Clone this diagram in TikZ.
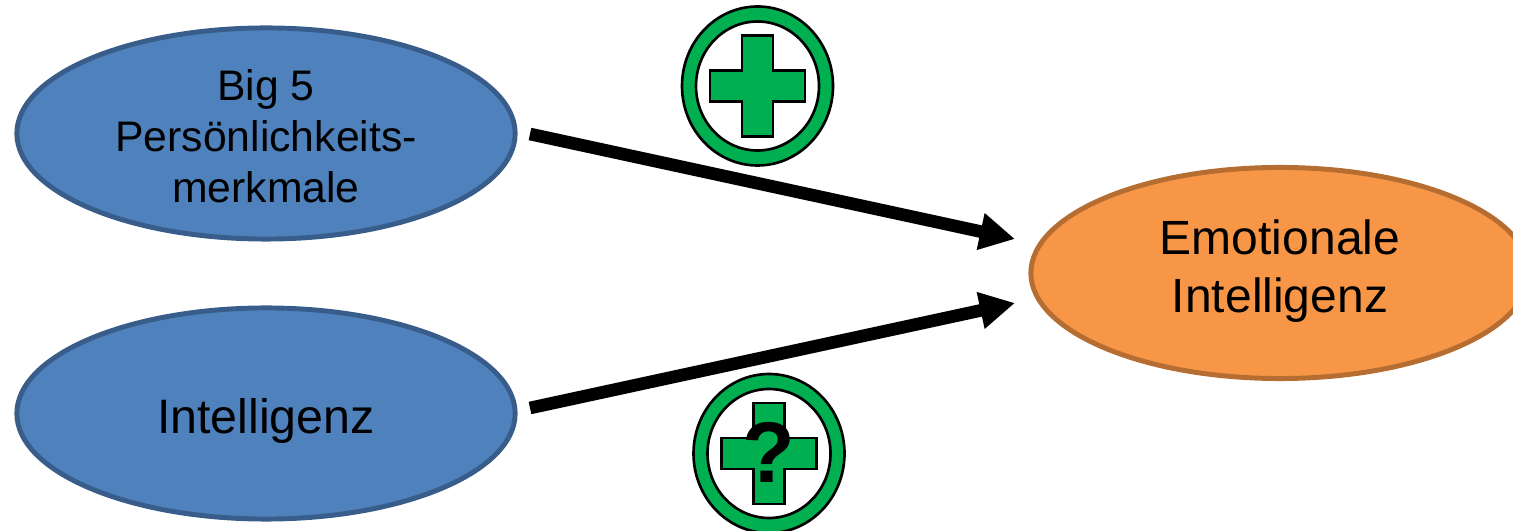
\documentclass[tikz,border=0pt]{standalone}
\usepackage{fontspec}
\setmainfont{Liberation Sans}
\usetikzlibrary{shapes.geometric,arrows.meta}
\definecolor{traitblue}{HTML}{4F81BD}
\definecolor{traitedge}{HTML}{385D8A}
\definecolor{emoorange}{HTML}{F79646}
\definecolor{emoedge}{HTML}{B66D31}
\definecolor{plusgreen}{HTML}{00B050}
\tikzset{
  trait/.style={ellipse,draw=traitedge,fill=traitblue,line width=1.4pt,inner sep=0pt,
    minimum width=4.98cm,minimum height=2.11cm,align=center},
  emo/.style={ellipse,draw=emoedge,fill=emoorange,line width=1.4pt,inner sep=0pt,
    minimum width=4.98cm,minimum height=2.11cm,align=center},
  effect/.style={line width=3.6pt,-{Triangle[length=10pt,width=10pt]}},
  plusring/.pic={
    \draw[fill=plusgreen,even odd rule,line width=0.75pt] (0,0) ellipse [x radius=75.5,y radius=79.5]
      (0,0) ellipse [x radius=61.5,y radius=64.5];
    \draw[fill=plusgreen,line width=0.75pt] (-15.5,-50.5) -- (15.5,-50.5) -- (15.5,-15.5) -- (47.5,-15.5) --
      (47.5,15.5) -- (15.5,15.5) -- (15.5,50.5) -- (-15.5,50.5) -- (-15.5,15.5) -- (-47.5,15.5) --
      (-47.5,-15.5) -- (-15.5,-15.5) -- cycle;
  }
}
\begin{document}
\begin{tikzpicture}[x=0.01cm,y=-0.01cm]
   \useasboundingbox (0,0) rectangle (1513,531);
   \node[trait,font=\fontsize{12.15}{14.5}\selectfont] (big5) at (266,133.5) {\rule{0pt}{10.2pt}Big 5\\Persönlichkeits-\\merkmale};
   \node[trait,font=\fontsize{13.75}{16}\selectfont,text height=12pt,text depth=0.6pt] (intel) at (266,413.5) {Intelligenz};
   \node[emo,font=\fontsize{13.65}{16.5}\selectfont] (emotion) at (1280,273) {Emotionale\\Intelligenz\rule[-4pt]{0pt}{0pt}};
   % arrows stop short of the ellipses
   \coordinate (big5out) at (530,134);
   \coordinate (intelout) at (530,408);
   \coordinate (emoin1) at (1015,239);
   \coordinate (emoin2) at (1015,303);
   \draw[effect] (big5out) -- (emoin1);
   \draw[effect] (intelout) -- (emoin2);
   \pic at (757.5,86) {plusring};
   \pic at (769,453.5) {plusring};
   \node[font=\fontsize{24.5}{24.5}\bfseries\selectfont,inner sep=0pt] (unknown) at (769,452) {?};
\end{tikzpicture}
\end{document}
